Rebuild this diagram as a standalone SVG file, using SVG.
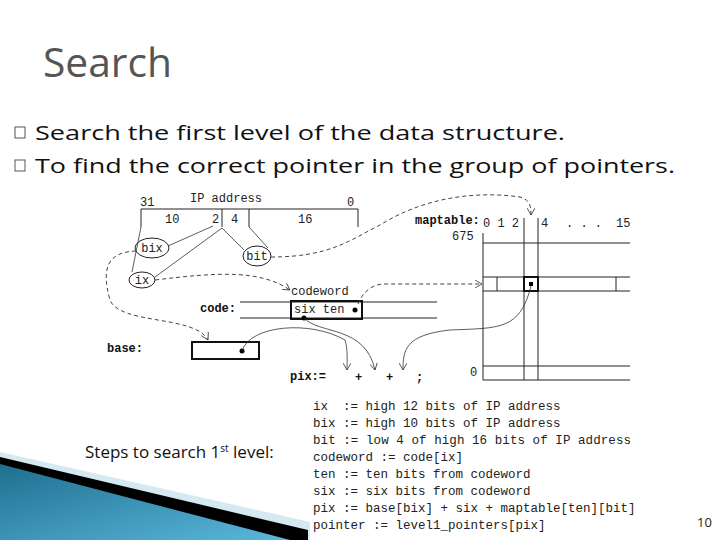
<svg xmlns="http://www.w3.org/2000/svg" width="720" height="540" viewBox="0 0 720 540">
<defs>
<style>
.m{font-family:"Liberation Mono",monospace;font-size:12px;fill:#222}
.mb{font-family:"Liberation Mono",monospace;font-size:12px;font-weight:bold;fill:#111}
.b{font-family:"Open Sans","Liberation Sans",sans-serif;font-size:20px;fill:#111}
.ln{stroke:#222;stroke-width:1;fill:none}
.tk{stroke:#111;stroke-width:2;fill:none}
.ds{stroke:#444;stroke-width:1;fill:none;stroke-dasharray:4 3}
.th{stroke:#333;stroke-width:0.8;fill:none}
.code{font-family:"Liberation Mono",monospace;font-size:12.5px;fill:#222;white-space:pre}
</style>
<marker id="a" markerWidth="8" markerHeight="8" refX="7" refY="4" orient="auto" markerUnits="userSpaceOnUse"><path d="M0,0 L7,4 L0,8" fill="none" stroke="#333" stroke-width="0.8"/></marker>
<linearGradient id="g" x1="0" y1="0" x2="1" y2="1"><stop offset="0" stop-color="#1f6f8f"/><stop offset="1" stop-color="#5ab8dc"/></linearGradient>
</defs>
<rect width="720" height="540" fill="#fff"/>
<g id="deco">
<polygon points="0,452 310,522 310,540 0,540" fill="#d4e9f1"/>
<polygon points="0,457 308,530 308,540 0,540" fill="#000"/>
<polygon points="0,464 290,540 0,540" fill="url(#g)"/>
</g>
<g id="title"><text x="43" y="77" font-family="Open Sans,Liberation Sans,sans-serif" font-size="40" fill="#555" textLength="129" lengthAdjust="spacingAndGlyphs">Search</text></g>
<g id="bullets">
<rect x="15" y="127" width="10" height="11" fill="none" stroke="#555" stroke-width="1"/>
<text class="b" x="35" y="140" textLength="530" lengthAdjust="spacingAndGlyphs">Search the first level of the data structure.</text>
<rect x="15" y="160" width="10" height="11" fill="none" stroke="#555" stroke-width="1"/>
<text class="b" x="35" y="173" textLength="640" lengthAdjust="spacingAndGlyphs">To find the correct pointer in the group of pointers.</text>
</g>
<g id="ipaddr">
<text class="m" x="190" y="202" font-size="14">IP address</text>
<text class="m" x="140" y="206">31</text><text class="m" x="347" y="206">0</text>
<path class="ln" d="M141,227 V209 H358 V227 M222,209 V227 M249,209 V227"/>
<text class="m" x="165" y="223">10</text><text class="m" x="212" y="223">2</text><text class="m" x="231" y="223">4</text><text class="m" x="298" y="223">16</text>
</g>
<g id="nodes">
<g id="bix"><ellipse cx="152" cy="248" rx="17" ry="10" class="ln"/><text class="m" x="152" y="252" text-anchor="middle">bix</text></g>
<g id="bit"><ellipse cx="257" cy="256" rx="14" ry="10" class="ln"/><text class="m" x="257" y="260" text-anchor="middle">bit</text></g>
<g id="ix"><ellipse cx="142" cy="280" rx="13" ry="8" class="ln"/><text class="m" x="142" y="284" text-anchor="middle">ix</text></g>
<g id="code">
<text class="mb" x="200" y="312">code:</text>
<path class="ln" d="M240,302 H437 M240,318 H437"/>
<text class="m" x="291" y="295">codeword</text>
<rect x="291" y="301" width="71" height="18" class="tk"/>
<text class="m" x="294" y="313">six ten</text>
<circle cx="355" cy="310" r="2.5" fill="#000"/>
<circle cx="304" cy="318" r="2.5" fill="#000"/>
</g>
<g id="base">
<text class="mb" x="107" y="352">base:</text>
<rect x="192" y="342" width="67" height="17" class="tk"/>
<circle cx="242" cy="351" r="2.5" fill="#000"/>
</g>
<g id="pix">
<text class="mb" x="290" y="380">pix:=</text>
<text class="mb" x="355" y="381">+</text><text class="mb" x="386" y="381">+</text><text class="mb" x="416" y="381">;</text>
</g>
<g id="maptable">
<text class="mb" x="415" y="224">maptable:</text>
<text class="m" x="483" y="227" font-size="11">0 1 2</text><text class="m" x="541" y="227" font-size="11">4</text>
<text class="m" x="566" y="227" font-size="11">. . .</text><text class="m" x="616" y="227" font-size="11">15</text>
<text class="m" x="452" y="240">675</text><text class="m" x="470" y="376">0</text>
<path class="ln" d="M483,233 V380 H630 M483,243 H630 M483,277 H630 M483,291 H630 M483,366 H630 M524,218 V380 M538,218 V380 M497,277 V291 M616,277 V291"/>
<rect x="524" y="277" width="14" height="14" class="tk"/>
<rect x="529" y="282" width="4" height="4" fill="#000"/>
</g>
</g>
<g id="connectors">
<path class="th" d="M213,226 L168,246 M222,228 L155,277 M222,228 L244,250 M249,227 L268,248 M141,227 L132,272"/>
<path class="ds" d="M271,257 C330,257 350,240 380,225 C420,200 470,190 520,197 C530,200 531,206 531,215" marker-end="url(#a)"/>
<path class="ds" d="M155,280 C220,272 260,270 290,290" marker-end="url(#a)"/>
<path class="ds" d="M136,251 C110,252 100,265 110,300 C120,325 195,315 208,340" marker-end="url(#a)"/>
<path class="ds" d="M358,304 C362,294 370,284 385,284 H482" marker-end="url(#a)"/>
<path class="th" d="M304,318 C320,335 365,325 375,370" marker-end="url(#a)"/>
<path class="th" d="M242,351 C250,325 310,320 345,340 C348,350 347,360 347,370" marker-end="url(#a)"/>
<path class="th" d="M531,286 C520,330 500,328 450,330 C405,335 403,350 403,370" marker-end="url(#a)"/>
</g>
<g id="steps">
<text x="85" y="458" font-family="Open Sans,Liberation Sans,sans-serif" font-size="17" fill="#111">Steps to search 1<tspan font-size="10" dy="-6">st</tspan><tspan dy="6"> level:</tspan></text>
<g class="code">
<text x="313" y="410" xml:space="preserve">ix  := high 12 bits of IP address</text>
<text x="313" y="427">bix := high 10 bits of IP address</text>
<text x="313" y="444" textLength="318">bit := low 4 of high 16 bits of IP address</text>
<text x="313" y="461">codeword := code[ix]</text>
<text x="313" y="478">ten := ten bits from codeword</text>
<text x="313" y="495">six := six bits from codeword</text>
<text x="313" y="512">pix := base[bix] + six + maptable[ten][bit]</text>
<text x="313" y="529">pointer := level1_pointers[pix]</text>
</g>
<text x="697" y="527" font-family="Open Sans,Liberation Sans,sans-serif" font-size="13" fill="#222">10</text>
</g>
</svg>
